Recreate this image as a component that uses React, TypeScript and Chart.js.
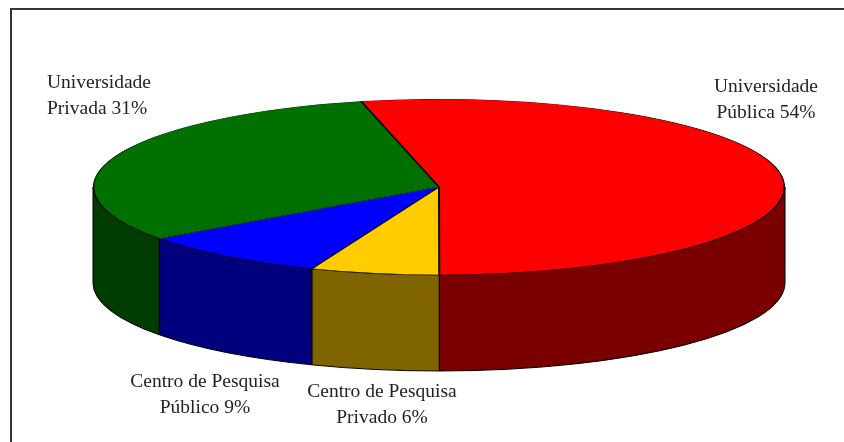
import React, { useEffect, useRef } from "react";
import { Chart, registerables } from "chart.js";

Chart.register(...registerables);

const categories = ["Universidade Pública", "Centro de Pesquisa Privado", "Centro de Pesquisa Público", "Universidade Privada"];
const shares = [53.6, 6, 9, 31.4];
const topColors = ["#ff0000", "#ffcc00", "#0000ff", "#007000"];
const wallColors = ["#7a0000", "#806400", "#00007e", "#003c00"];
const labelLines = [
  ["Universidade", "Pública 54%"],
  ["Centro de Pesquisa", "Privado 6%"],
  ["Centro de Pesquisa", "Público 9%"],
  ["Universidade", "Privada 31%"],
];
const labelAnchors = [
  { x: 766, y: 92, align: "center" },
  { x: 382, y: 397, align: "center" },
  { x: 205, y: 387, align: "center" },
  { x: 47, y: 88, align: "left" },
];

const CX = 439;
const CY = 187;
const RX = 346;
const RY = 88;
const DEPTH = 96;
const START_DEG = -13;

const pie3d = {
  id: "pie3d",
  beforeDatasetsDraw(chart: any) {
    const ctx = chart.ctx;
    const arcs = chart.getDatasetMeta(0).data;
    ctx.save();
    ctx.lineWidth = 1;
    ctx.strokeStyle = "#000";
    arcs.forEach((arc: any, i: number) => {
      const twoPi = Math.PI * 2;
      let s = arc.startAngle;
      let e = arc.endAngle;
      while (s < -1e-6) { s += twoPi; e += twoPi; }
      const parts: [number, number][] = [
        [Math.max(s, 0), Math.min(e, Math.PI)],
        [Math.max(s, twoPi), Math.min(e, twoPi + Math.PI)],
      ];
      parts.forEach(([a, b]) => {
        if (b <= a) return;
        ctx.beginPath();
        ctx.ellipse(CX, CY, RX, RY, 0, a, b);
        ctx.lineTo(CX + RX * Math.cos(b), CY + RY * Math.sin(b) + DEPTH);
        ctx.ellipse(CX, CY + DEPTH, RX, RY, 0, b, a, true);
        ctx.closePath();
        ctx.fillStyle = wallColors[i];
        ctx.fill();
        ctx.stroke();
      });
    });
    ctx.restore();
    // squash the flat pie into the tilted top face
    const first = arcs[0];
    ctx.save();
    ctx.translate(CX, CY);
    ctx.scale(1, RY / RX);
    ctx.translate(-first.x, -first.y);
  },
  afterDatasetsDraw(chart: any) {
    const ctx = chart.ctx;
    ctx.restore();
    ctx.save();
    ctx.fillStyle = "#222";
    ctx.font = '19.5px "Liberation Serif"';
    ctx.textBaseline = "alphabetic";
    labelLines.forEach((lines, i) => {
      const a = labelAnchors[i];
      ctx.textAlign = a.align;
      lines.forEach((t, j) => ctx.fillText(t, a.x, a.y + j * 25.5));
    });
    ctx.restore();
  },
};

export default function App() {
  const ref = useRef<HTMLCanvasElement>(null);
  useEffect(() => {
    document.body.style.margin = "0";
    const chart = new Chart(ref.current!, {
      type: "pie",
      data: {
        labels: categories,
        datasets: [{
          data: shares,
          backgroundColor: topColors,
          borderColor: "#000",
          borderWidth: 1,
          borderAlign: "inner",
          clip: false,
        } as any],
      },
      options: {
        animation: false,
        responsive: false,
        rotation: START_DEG,
        radius: RX,
        layout: { padding: 0 },
        plugins: { legend: { display: false }, tooltip: { enabled: false } },
      } as any,
      plugins: [pie3d],
    });
    return () => chart.destroy();
  }, []);
  return (
    <div style={{ position: "relative", width: 844, height: 442, background: "#fff", overflow: "hidden" }}>
      <canvas ref={ref} width={844} height={442} style={{ display: "block" }} />
      <div style={{ position: "absolute", left: 10, top: 8, right: 0, bottom: 0, borderLeft: "2px solid #333", borderTop: "2px solid #333", boxSizing: "border-box", pointerEvents: "none" }} />
    </div>
  );
}
